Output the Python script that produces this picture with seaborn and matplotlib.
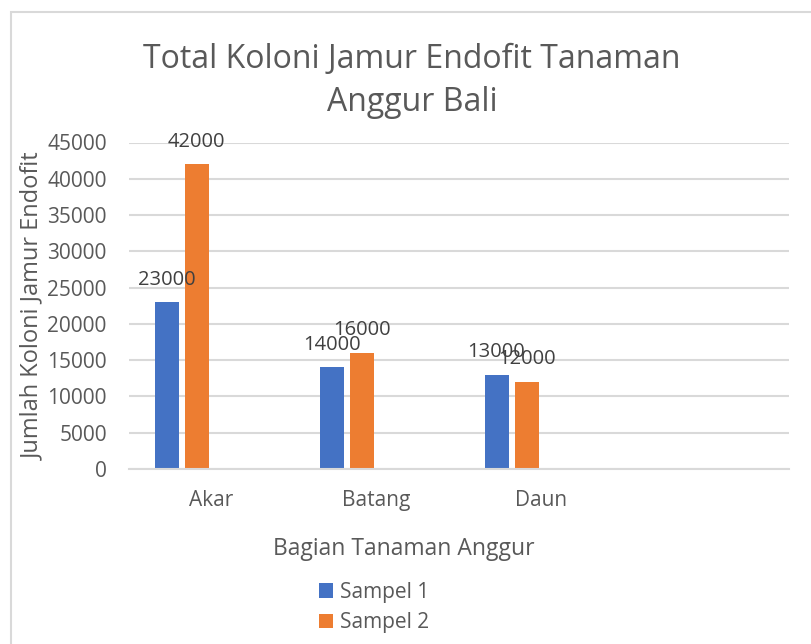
import pandas as pd
import matplotlib
matplotlib.use("Agg")
import matplotlib.pyplot as plt
import seaborn as sns
from matplotlib.patches import Rectangle, Patch

# data
kategori = ["Akar", "Batang", "Daun"]
sampel_1 = [23000, 14000, 13000]
sampel_2 = [42000, 16000, 12000]
seri = ["Sampel 1", "Sampel 2"]
warna = ["#4472C4", "#ED7D31"]
y_ticks = [0, 5000, 10000, 15000, 20000, 25000, 30000, 35000, 40000, 45000]

# the Excel chart has an empty 4th category and two empty series slots
slot_kat = kategori + [""]
slot_seri = seri + ["_s3", "_s4"]
rows = []
for i, k in enumerate(slot_kat):
    vals = [sampel_1[i], sampel_2[i]] if i < len(kategori) else [0, 0]
    for s, v in zip(slot_seri, vals + [0, 0]):
        rows.append({"bagian": k, "seri": s, "jumlah": v})
df = pd.DataFrame(rows)

sns.set_style("white")
plt.rcParams["font.family"] = ["Open Sans", "DejaVu Sans"]
teks = "#595959"
grid = "#D9D9D9"

fig = plt.figure(figsize=(8.11, 6.44), dpi=100)
ax = fig.add_axes([129 / 811, 1 - 469 / 644, 660 / 811, (469 - 142.5) / 644])

sns.barplot(data=df, x="bagian", y="jumlah", hue="seri", order=slot_kat,
            hue_order=slot_seri, palette=warna + ["white", "white"],
            saturation=1, width=0.727, gap=0.2, linewidth=0, legend=False, ax=ax)

for c, vals in zip(ax.containers[:2], [sampel_1, sampel_2]):
    labels = [str(v) for v in vals] + [""]
    ax.bar_label(c, labels=labels, padding=9, fontsize=14.5, color="#404040")

ax.set_ylim(0, 45000)
ax.set_yticks(y_ticks)
ax.set_yticklabels([str(t) for t in y_ticks])
ax.yaxis.grid(True, color=grid, linewidth=1.5)
ax.set_axisbelow(True)
for s in ["top", "right", "left"]:
    ax.spines[s].set_visible(False)
ax.spines["bottom"].set_color(grid)
ax.spines["bottom"].set_linewidth(1.5)
ax.tick_params(axis="both", length=0, labelsize=15, colors=teks)
ax.tick_params(axis="y", pad=16)
ax.tick_params(axis="x", pad=15)

ax.set_xlabel("Bagian Tanaman Anggur", fontsize=16.5, color=teks)
ax.xaxis.set_label_coords((404 - 129) / 660, -(549 - 469) / 326.5)
ax.xaxis.label.set_va("center")
ax.set_ylabel("Jumlah Koloni Jamur Endofit", fontsize=17, color=teks)
ax.yaxis.set_label_coords(-(129 - 33) / 660, (469 - 306) / 326.5)
ax.yaxis.label.set_va("center")

fig.text(412 / 811, 1 - 81 / 644, "Total Koloni Jamur Endofit Tanaman\nAnggur Bali",
         ha="center", va="center", fontsize=23, color=teks, linespacing=1.4)

handles = [Patch(facecolor=w, edgecolor="none") for w in warna]
fig.legend(handles, seri, loc="upper left", bbox_to_anchor=(300 / 811, 1 - 563 / 644),
           frameon=False, fontsize=15, labelcolor=teks, handlelength=0.7,
           handleheight=0.7, handletextpad=0.3, labelspacing=0.45)

fig.patches.append(Rectangle((11 / 811, -0.05), 1.0, 1.05 - 12 / 644,
                             transform=fig.transFigure, fill=False,
                             edgecolor=grid, linewidth=1.5))

fig.savefig("out.png", dpi=100, facecolor="white")
